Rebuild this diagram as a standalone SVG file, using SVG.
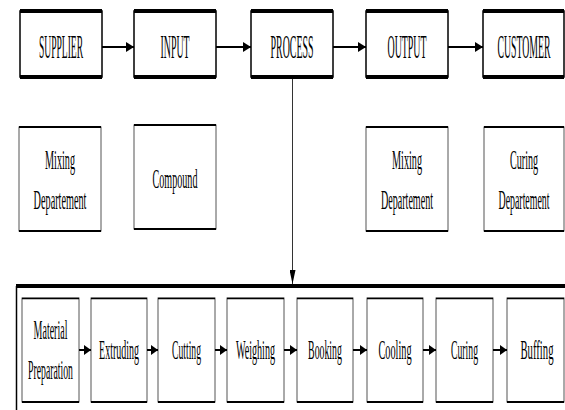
<svg xmlns="http://www.w3.org/2000/svg" width="565" height="410" viewBox="0 0 565 410">
<style>
text{font-family:"Liberation Serif","Times New Roman",serif;fill:#000;text-anchor:middle}
.t1{font-size:33px}
.t2{font-size:27px}
.box{fill:#fff;stroke:#000;stroke-width:1.5}
.box2{fill:#fff;stroke:#555;stroke-width:1}
.thick{stroke:#000;stroke-width:4}
.mid{stroke:#000;stroke-width:2}
.thin{stroke:#000;stroke-width:1.5}
.conn{stroke:#000;stroke-width:2;fill:none}
</style>
<defs>
<marker id="ah" markerWidth="8" markerHeight="10" refX="8" refY="5" orient="auto" markerUnits="userSpaceOnUse">
<path d="M0,0 L8,5 L0,10 Z" fill="#000"/>
</marker>
<marker id="ahs" markerWidth="7" markerHeight="10" refX="7" refY="5" orient="auto" markerUnits="userSpaceOnUse">
<path d="M0,0 L7,5 L0,10 Z" fill="#000"/>
</marker>
<marker id="ahv" markerWidth="14" markerHeight="6" refX="14" refY="3" orient="auto" markerUnits="userSpaceOnUse">
<path d="M0,0 L14,3 L0,6 Z" fill="#000"/>
</marker>
</defs>

<g id="container">
<line x1="16" y1="286" x2="565" y2="286" class="thick"/>
<line x1="16.5" y1="286" x2="16.5" y2="410" stroke="#000" stroke-width="1.5"/>
</g>

<g id="supplier">
<rect x="20" y="11" width="82" height="66" class="box"/>
<line x1="20" y1="11" x2="102" y2="11" class="thick"/><line x1="20" y1="77" x2="102" y2="77" class="thick"/>
<text transform="translate(61,58) scale(0.3,1)" class="t1" textLength="147" lengthAdjust="spacingAndGlyphs">SUPPLIER</text>
</g>
<g id="input">
<rect x="134" y="11" width="82" height="66" class="box"/>
<line x1="134" y1="11" x2="216" y2="11" class="thick"/><line x1="134" y1="77" x2="216" y2="77" class="thick"/>
<text transform="translate(175,58) scale(0.3,1)" class="t1" textLength="97" lengthAdjust="spacingAndGlyphs">INPUT</text>
</g>
<g id="process">
<rect x="251" y="11" width="82" height="66" class="box"/>
<line x1="251" y1="11" x2="333" y2="11" class="thick"/><line x1="251" y1="77" x2="333" y2="77" class="thick"/>
<text transform="translate(292,58) scale(0.3,1)" class="t1" textLength="143" lengthAdjust="spacingAndGlyphs">PROCESS</text>
</g>
<g id="output">
<rect x="366" y="11" width="82" height="66" class="box"/>
<line x1="366" y1="11" x2="448" y2="11" class="thick"/><line x1="366" y1="77" x2="448" y2="77" class="thick"/>
<text transform="translate(407,58) scale(0.3,1)" class="t1" textLength="130" lengthAdjust="spacingAndGlyphs">OUTPUT</text>
</g>
<g id="customer">
<rect x="483" y="11" width="81" height="66" class="box"/>
<line x1="483" y1="11" x2="564" y2="11" class="thick"/><line x1="483" y1="77" x2="564" y2="77" class="thick"/>
<text transform="translate(524,58) scale(0.3,1)" class="t1" textLength="177" lengthAdjust="spacingAndGlyphs">CUSTOMER</text>
</g>

<g id="mixing-left">
<rect x="19" y="127" width="82" height="104" class="box2"/>
<line x1="19" y1="127" x2="101" y2="127" class="mid"/><line x1="19" y1="231" x2="101" y2="231" class="mid"/>
<text transform="translate(60,169) scale(0.38,1)" class="t2" textLength="79" lengthAdjust="spacingAndGlyphs">Mixing</text>
<text transform="translate(60,209) scale(0.38,1)" class="t2" textLength="139" lengthAdjust="spacingAndGlyphs">Departement</text>
</g>
<g id="compound">
<rect x="134" y="125" width="82" height="104" class="box2"/>
<line x1="134" y1="125" x2="216" y2="125" class="mid"/><line x1="134" y1="229" x2="216" y2="229" class="mid"/>
<text transform="translate(175,188) scale(0.38,1)" class="t2" textLength="118" lengthAdjust="spacingAndGlyphs">Compound</text>
</g>
<g id="mixing-right">
<rect x="366" y="127" width="82" height="104" class="box2"/>
<line x1="366" y1="127" x2="448" y2="127" class="mid"/><line x1="366" y1="231" x2="448" y2="231" class="mid"/>
<text transform="translate(407,169) scale(0.38,1)" class="t2" textLength="79" lengthAdjust="spacingAndGlyphs">Mixing</text>
<text transform="translate(407,209) scale(0.38,1)" class="t2" textLength="137" lengthAdjust="spacingAndGlyphs">Departement</text>
</g>
<g id="curing-dept">
<rect x="484" y="127" width="80" height="104" class="box2"/>
<line x1="484" y1="127" x2="564" y2="127" class="mid"/><line x1="484" y1="231" x2="564" y2="231" class="mid"/>
<text transform="translate(524,169) scale(0.38,1)" class="t2" textLength="74" lengthAdjust="spacingAndGlyphs">Curing</text>
<text transform="translate(524,209) scale(0.38,1)" class="t2" textLength="134" lengthAdjust="spacingAndGlyphs">Departement</text>
</g>

<g id="material-preparation">
<rect x="22" y="298" width="57" height="104" class="box2"/>
<line x1="22" y1="298.5" x2="79" y2="298.5" class="thin"/><line x1="22" y1="402" x2="79" y2="402" class="mid"/>
<text transform="translate(50.5,339) scale(0.38,1)" class="t2" textLength="89" lengthAdjust="spacingAndGlyphs">Material</text>
<text transform="translate(50.5,379) scale(0.38,1)" class="t2" textLength="118" lengthAdjust="spacingAndGlyphs">Preparation</text>
</g>
<g id="extruding">
<rect x="91" y="298" width="56" height="104" class="box2"/>
<line x1="91" y1="298.5" x2="147" y2="298.5" class="thin"/><line x1="91" y1="402" x2="147" y2="402" class="mid"/>
<text transform="translate(119,359) scale(0.38,1)" class="t2" textLength="105" lengthAdjust="spacingAndGlyphs">Extruding</text>
</g>
<g id="cutting">
<rect x="158" y="298" width="57" height="104" class="box2"/>
<line x1="158" y1="298.5" x2="215" y2="298.5" class="thin"/><line x1="158" y1="402" x2="215" y2="402" class="mid"/>
<text transform="translate(186.5,359) scale(0.38,1)" class="t2" textLength="76" lengthAdjust="spacingAndGlyphs">Cutting</text>
</g>
<g id="weighing">
<rect x="227" y="298" width="57" height="104" class="box2"/>
<line x1="227" y1="298.5" x2="284" y2="298.5" class="thin"/><line x1="227" y1="402" x2="284" y2="402" class="mid"/>
<text transform="translate(255.5,359) scale(0.38,1)" class="t2" textLength="103" lengthAdjust="spacingAndGlyphs">Weighing</text>
</g>
<g id="booking">
<rect x="297" y="298" width="56" height="104" class="box2"/>
<line x1="297" y1="298.5" x2="353" y2="298.5" class="thin"/><line x1="297" y1="402" x2="353" y2="402" class="mid"/>
<text transform="translate(325,359) scale(0.38,1)" class="t2" textLength="89" lengthAdjust="spacingAndGlyphs">Booking</text>
</g>
<g id="cooling">
<rect x="367" y="298" width="56" height="104" class="box2"/>
<line x1="367" y1="298.5" x2="423" y2="298.5" class="thin"/><line x1="367" y1="402" x2="423" y2="402" class="mid"/>
<text transform="translate(395,359) scale(0.38,1)" class="t2" textLength="87" lengthAdjust="spacingAndGlyphs">Cooling</text>
</g>
<g id="curing">
<rect x="436" y="298" width="57" height="104" class="box2"/>
<line x1="436" y1="298.5" x2="493" y2="298.5" class="thin"/><line x1="436" y1="402" x2="493" y2="402" class="mid"/>
<text transform="translate(464.5,359) scale(0.38,1)" class="t2" textLength="71" lengthAdjust="spacingAndGlyphs">Curing</text>
</g>
<g id="buffing">
<rect x="507" y="298" width="57" height="104" class="box2"/>
<line x1="507" y1="298.5" x2="564" y2="298.5" class="thin"/><line x1="507" y1="402" x2="564" y2="402" class="mid"/>
<text transform="translate(537,359) scale(0.38,1)" class="t2" textLength="87" lengthAdjust="spacingAndGlyphs">Buffing</text>
</g>

<g id="connectors">
<line x1="102" y1="47" x2="134" y2="47" class="conn" marker-end="url(#ah)"/>
<line x1="216" y1="47" x2="251" y2="47" class="conn" marker-end="url(#ah)"/>
<line x1="333" y1="47" x2="366" y2="47" class="conn" marker-end="url(#ah)"/>
<line x1="448" y1="47" x2="483" y2="47" class="conn" marker-end="url(#ah)"/>
<line x1="292.5" y1="79" x2="292.5" y2="284" stroke="#333" stroke-width="1" marker-end="url(#ahv)"/>
<line x1="79" y1="350" x2="91" y2="350" class="conn" marker-end="url(#ahs)"/>
<line x1="147" y1="350" x2="158" y2="350" class="conn" marker-end="url(#ahs)"/>
<line x1="215" y1="350" x2="227" y2="350" class="conn" marker-end="url(#ahs)"/>
<line x1="284" y1="350" x2="297" y2="350" class="conn" marker-end="url(#ahs)"/>
<line x1="353" y1="350" x2="367" y2="350" class="conn" marker-end="url(#ahs)"/>
<line x1="423" y1="350" x2="436" y2="350" class="conn" marker-end="url(#ahs)"/>
<line x1="493" y1="350" x2="507" y2="350" class="conn" marker-end="url(#ahs)"/>
</g>
</svg>
